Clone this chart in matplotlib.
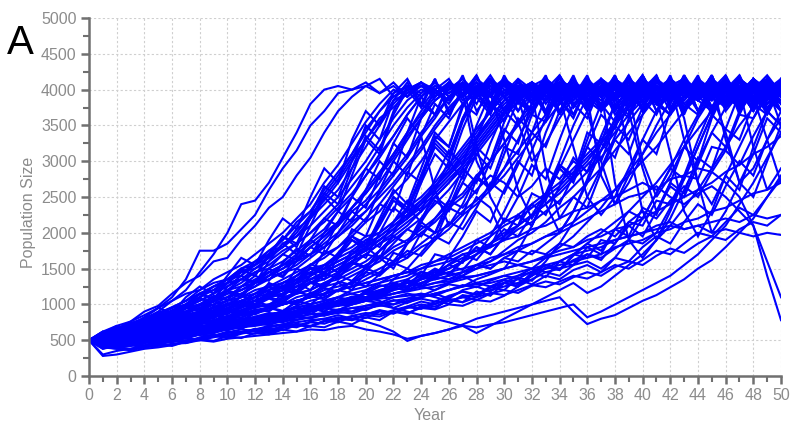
import numpy as np
import matplotlib
matplotlib.use("Agg")
import matplotlib.pyplot as plt
from matplotlib.ticker import MultipleLocator

years_max = 50
y_max = 5000

run_01 = [500, 560, 640, 700, 800, 900, 1050, 1200, 1450, 1700, 2000, 2400, 2450, 2700, 3050, 3400, 3800, 4000, 4050, 4000, 4100, 3950, 4050, 3900, 4100, 3850, 4000, 4150, 3900, 4050, 3950, 4100, 3850, 4000, 4050, 3900, 4150, 3950, 4000, 3850, 4100, 3950, 4050, 3900, 4150, 4000, 3850, 4050, 3950, 4100, 3900]
run_02 = [500, 540, 620, 720, 820, 950, 1100, 1350, 1750, 1750, 1850, 2050, 2250, 2600, 2900, 3150, 3500, 3700, 3950, 4000, 4050, 4150, 3900, 4000, 4100, 3950, 3850, 4050, 4000, 4150, 3900, 4050, 3950, 4100, 3800, 4000, 4050, 3900, 4100, 3950, 4200, 3850, 4000, 4050, 3900, 4100, 3950, 4000, 3850, 4150, 4000]
run_03 = [500, 580, 660, 760, 900, 980, 1150, 1300, 1400, 1600, 1650, 1900, 2100, 2350, 2500, 2800, 3050, 3400, 3700, 3900, 4050, 3950, 4100, 3900, 4050, 4000, 4150, 3850, 4000, 3950, 4100, 3900, 4050, 4150, 3950, 3800, 4000, 4100, 3900, 4050, 3950, 4150, 4000, 3850, 4050, 3950, 4100, 3900, 4000, 4200, 3950]
run_04 = [500, 520, 600, 650, 760, 850, 900, 1000, 1100, 1250, 1350, 1400, 1600, 1700, 1900, 2150, 2300, 2600, 2850, 3100, 3450, 3700, 3900, 4050, 3950, 4100, 3900, 4000, 4150, 3950, 4050, 3850, 4000, 4100, 3950, 4050, 3900, 4150, 4000, 3850, 4050, 3950, 4100, 4000, 3900, 4150, 3950, 4050, 3850, 4000, 4100]
run_05 = [500, 600, 640, 700, 800, 880, 950, 1050, 1200, 1300, 1350, 1500, 1550, 1750, 1800, 2000, 2250, 2450, 2700, 3000, 3300, 3550, 3850, 3950, 4100, 4000, 3850, 4050, 3950, 4200, 3900, 4000, 4100, 3950, 4050, 3900, 4100, 4000, 3850, 4150, 3950, 4000, 4100, 3900, 4050, 4000, 3950, 4150, 3900, 4050, 4000]
run_06 = [500, 480, 560, 640, 700, 760, 880, 950, 1050, 1150, 1300, 1450, 1500, 1650, 1850, 1950, 2200, 2400, 2600, 2900, 3200, 3500, 3800, 4000, 4100, 3900, 4050, 3950, 3000, 2600, 2900, 3300, 3700, 3950, 4100, 3900, 4050, 3950, 4150, 4000, 3900, 4050, 3950, 4100, 3850, 4000, 4150, 3950, 4050, 3900, 4000]
run_07 = [500, 550, 590, 660, 720, 800, 850, 960, 1000, 1100, 1200, 1300, 1450, 1500, 1600, 1750, 1900, 2050, 2300, 2500, 2800, 3100, 3350, 3650, 3900, 4050, 3950, 4100, 3900, 4000, 4150, 3950, 4050, 3850, 4000, 4100, 3950, 4050, 3900, 4100, 4000, 3850, 4050, 4150, 3950, 4000, 4100, 3900, 4050, 3950, 4100]
run_08 = [500, 450, 520, 580, 650, 700, 760, 830, 900, 1000, 1050, 1150, 1250, 1400, 1500, 1650, 1700, 1900, 2100, 2300, 2450, 2700, 3000, 3300, 3600, 3850, 4000, 4150, 3950, 4050, 3900, 4100, 4000, 3850, 4050, 3950, 4100, 3900, 4000, 4150, 3950, 4050, 3900, 4000, 4100, 3950, 3850, 4050, 4000, 4150, 3950]
run_09 = [500, 530, 610, 680, 740, 830, 920, 1000, 1150, 1200, 1350, 1400, 1550, 1700, 1800, 2050, 2200, 2500, 2750, 3050, 3300, 3600, 3750, 3950, 4050, 3900, 4100, 4000, 3950, 4150, 3900, 3550, 3000, 3250, 3600, 3900, 4050, 3950, 4100, 3900, 4000, 4050, 3950, 4150, 3900, 4050, 4000, 3850, 4100, 3950, 4050]
run_10 = [500, 560, 600, 620, 700, 750, 820, 900, 950, 1050, 1100, 1250, 1300, 1450, 1550, 1600, 1800, 1950, 2100, 2350, 2550, 2800, 3100, 3400, 3650, 3900, 4100, 3950, 4050, 3900, 4150, 4000, 3850, 4050, 3950, 4100, 4000, 3900, 4150, 3950, 4050, 3850, 4000, 4100, 3950, 4050, 3900, 4150, 4000, 3950, 4050]
run_11 = [500, 500, 540, 600, 640, 720, 780, 800, 880, 950, 1000, 1100, 1150, 1250, 1350, 1450, 1550, 1700, 1800, 2000, 2200, 2400, 2650, 2900, 3150, 3450, 3700, 3950, 4050, 3900, 4100, 4000, 3950, 4150, 3900, 4050, 3950, 4100, 3850, 4000, 4050, 4150, 3900, 4000, 4100, 3950, 4050, 3900, 4150, 4000, 3950]
run_12 = [500, 420, 480, 540, 600, 650, 700, 760, 850, 900, 980, 1050, 1100, 1200, 1300, 1400, 1550, 1650, 1800, 1950, 2150, 2300, 2550, 2750, 3000, 3300, 3550, 3800, 4000, 4100, 3950, 4050, 3900, 4150, 4000, 3850, 4050, 3950, 4100, 4000, 3900, 4150, 3950, 4050, 3850, 4000, 4100, 3950, 4050, 3900, 4100]
run_13 = [500, 540, 580, 650, 680, 760, 820, 870, 950, 1000, 1100, 1150, 1250, 1350, 1450, 1500, 1650, 1800, 1950, 2150, 2300, 2550, 2800, 3050, 3350, 3600, 3900, 4050, 3950, 4100, 3900, 4050, 4000, 3950, 4150, 4000, 3900, 2800, 2400, 2700, 3100, 3500, 3850, 4000, 4100, 3950, 4050, 3900, 4150, 4000, 3950]
run_14 = [500, 460, 500, 540, 560, 600, 650, 700, 720, 780, 830, 900, 950, 1000, 1050, 1150, 1200, 1300, 1400, 1500, 1600, 1750, 1900, 2050, 2200, 2400, 2600, 2850, 3100, 3350, 3600, 3850, 4000, 4100, 3900, 4050, 3950, 4100, 4000, 3850, 4050, 3950, 4150, 3900, 4000, 4100, 3950, 4050, 3900, 4000, 4150]
run_15 = [500, 510, 560, 590, 620, 680, 700, 760, 800, 860, 900, 960, 1000, 1100, 1150, 1200, 1300, 1350, 1450, 1600, 1700, 1850, 1950, 2100, 2300, 2500, 2700, 2950, 3200, 3450, 3700, 3900, 4050, 3950, 4100, 3900, 4050, 4000, 4150, 3950, 4050, 3900, 4100, 4000, 3850, 4050, 3950, 4150, 4000, 3900, 4050]
run_16 = [500, 380, 420, 480, 500, 550, 600, 620, 680, 720, 780, 850, 880, 950, 1000, 1100, 1150, 1250, 1300, 1400, 1500, 1600, 1750, 1850, 2000, 2150, 2350, 2500, 2750, 3000, 3250, 3500, 3750, 3950, 4050, 3900, 4100, 4000, 3950, 4150, 3900, 4050, 4000, 3850, 4100, 3950, 4050, 4000, 3900, 4150, 3950]
run_17 = [500, 520, 540, 580, 640, 660, 720, 750, 800, 880, 900, 950, 1050, 1100, 1150, 1250, 1350, 1400, 1500, 1650, 1750, 1900, 2050, 2250, 2400, 2650, 2900, 3150, 3400, 3700, 3950, 4050, 3900, 4100, 3950, 4050, 4000, 3900, 4100, 3950, 3000, 2500, 2800, 3200, 3600, 3900, 4050, 3950, 4100, 4000, 3900]
run_18 = [500, 470, 450, 500, 520, 580, 600, 650, 680, 740, 800, 820, 880, 920, 1000, 1050, 1100, 1200, 1250, 1300, 1400, 1500, 1600, 1700, 1850, 2000, 2100, 2300, 2450, 2650, 2900, 3150, 3400, 3650, 3900, 4050, 3950, 4100, 3900, 4000, 4150, 3950, 4050, 3900, 4100, 4000, 3850, 4050, 3950, 4100, 4000]
run_19 = [500, 550, 530, 600, 620, 650, 720, 740, 780, 820, 880, 920, 980, 1000, 1100, 1150, 1200, 1300, 1350, 1450, 1550, 1650, 1800, 1900, 2050, 2200, 2400, 2550, 2800, 3000, 3250, 3550, 3800, 4000, 4100, 3950, 4050, 3900, 4150, 4000, 3950, 4050, 3850, 4100, 4000, 3950, 4150, 3900, 4050, 4000, 3950]
run_20 = [500, 300, 350, 380, 420, 460, 500, 560, 600, 650, 700, 740, 800, 850, 900, 980, 1050, 1100, 1200, 1250, 1350, 1450, 1550, 1650, 1800, 1900, 2050, 2250, 2400, 2600, 2800, 3050, 3300, 3550, 3800, 4000, 4100, 3950, 4050, 3900, 4150, 4000, 3950, 4050, 3900, 4100, 4000, 3850, 4050, 4150, 3950]
run_21 = [500, 560, 620, 660, 700, 780, 800, 860, 900, 950, 1050, 1100, 1200, 1250, 1300, 1400, 1500, 1550, 1700, 1800, 1950, 2000, 2150, 2300, 2450, 2650, 2850, 3050, 3300, 3550, 3800, 3950, 4100, 3900, 4050, 3950, 4100, 4000, 3900, 4150, 3950, 4050, 3900, 4000, 4100, 3950, 4050, 3850, 4000, 4100, 3950]
run_22 = [500, 280, 300, 340, 380, 400, 430, 480, 500, 540, 580, 600, 650, 700, 720, 780, 820, 880, 920, 1000, 1050, 1100, 1200, 1250, 1350, 1400, 1500, 1600, 1700, 1850, 1950, 2100, 2250, 2400, 2600, 2800, 3000, 3250, 3500, 3750, 3950, 4050, 3900, 4100, 4000, 3950, 4150, 3900, 4050, 4000, 3950]
run_23 = [500, 450, 400, 420, 460, 480, 520, 540, 580, 600, 650, 680, 720, 760, 800, 850, 900, 950, 1000, 1050, 1100, 1200, 1250, 1300, 1400, 1450, 1550, 1650, 1750, 1850, 2000, 2100, 2250, 2400, 2550, 2750, 2950, 3150, 3400, 3650, 3850, 4000, 4100, 3950, 4050, 3900, 4100, 4000, 3950, 4150, 4000]
run_24 = [500, 520, 480, 450, 480, 500, 540, 560, 600, 620, 680, 700, 740, 780, 820, 860, 920, 960, 1000, 1050, 1100, 1150, 1250, 1300, 1350, 1450, 1500, 1600, 1700, 1800, 1900, 2050, 2150, 2300, 2450, 2650, 2850, 3050, 3300, 3550, 3800, 3950, 4050, 4150, 3950, 4050, 3900, 4100, 4000, 3950, 4050]
run_25 = [500, 400, 380, 360, 400, 420, 450, 460, 500, 480, 520, 540, 560, 580, 600, 620, 650, 640, 680, 700, 650, 620, 580, 520, 560, 600, 650, 700, 680, 720, 750, 800, 850, 900, 950, 1000, 820, 900, 1000, 1100, 1200, 1300, 1400, 1550, 1700, 1900, 2100, 2400, 2700, 3050, 3400]
run_26 = [500, 440, 470, 500, 520, 560, 580, 620, 640, 700, 720, 760, 800, 840, 880, 900, 950, 1000, 1050, 1100, 1150, 1200, 1250, 1300, 1350, 1400, 1450, 1500, 1550, 1650, 1700, 1800, 1850, 1950, 2000, 2100, 2200, 2300, 2400, 2500, 2550, 2650, 2500, 2400, 2550, 2650, 2500, 2300, 2100, 1400, 780]
run_27 = [500, 480, 520, 560, 600, 620, 660, 700, 760, 780, 840, 880, 920, 960, 1000, 1050, 1100, 1150, 1200, 1250, 1300, 1350, 1400, 1450, 1500, 1550, 1600, 1700, 1750, 1800, 1900, 1950, 2050, 2100, 2200, 2300, 2350, 2450, 2500, 2600, 2700, 2600, 2750, 2800, 2900, 2850, 2700, 2500, 2100, 1600, 1100]
run_28 = [500, 460, 430, 470, 500, 520, 560, 600, 620, 660, 700, 720, 750, 800, 820, 860, 900, 940, 980, 1000, 1050, 1100, 1150, 1200, 1250, 1300, 1320, 1380, 1400, 1450, 1500, 1550, 1600, 1650, 1700, 1750, 1800, 1850, 1900, 1950, 2000, 2050, 2100, 2050, 2100, 2000, 2050, 2000, 1950, 2000, 1970]
run_29 = [500, 420, 400, 380, 420, 440, 480, 500, 520, 560, 600, 620, 650, 680, 720, 750, 780, 800, 850, 800, 760, 700, 620, 490, 560, 600, 650, 720, 800, 850, 900, 950, 1000, 1050, 1100, 900, 725, 800, 850, 950, 1050, 1130, 1240, 1350, 1500, 1620, 1800, 2000, 2200, 2500, 2800]
run_30 = [500, 460, 500, 540, 560, 600, 640, 680, 720, 760, 800, 850, 900, 950, 1000, 1050, 1100, 1150, 1200, 1150, 1100, 1050, 950, 900, 850, 800, 750, 700, 600, 700, 800, 900, 1000, 1100, 1200, 1300, 1160, 1250, 1400, 1550, 1700, 1900, 2100, 2350, 2600, 2900, 3200, 3500, 3750, 3950, 4050]
run_31 = [500, 520, 500, 540, 580, 600, 620, 660, 700, 720, 760, 800, 820, 850, 880, 900, 920, 960, 1000, 1020, 1050, 1080, 1100, 1120, 1150, 1100, 1050, 1100, 1150, 1200, 1250, 1300, 1400, 1500, 1600, 1700, 1850, 2000, 2150, 2300, 2500, 2700, 2950, 3200, 3450, 3700, 3900, 4050, 3950, 4100, 3950]
run_32 = [500, 480, 450, 480, 520, 540, 580, 600, 650, 700, 720, 780, 800, 850, 900, 950, 1000, 1050, 1100, 1200, 1250, 1300, 1400, 1450, 1550, 1600, 1700, 1800, 1900, 2000, 2150, 2250, 2400, 2550, 2700, 2900, 3100, 3300, 3550, 3800, 4000, 4100, 3950, 4050, 3900, 4150, 4000, 3950, 4050, 3900, 4100]
run_33 = [500, 540, 600, 640, 680, 740, 780, 840, 900, 960, 1000, 1050, 1150, 1200, 1300, 1350, 1450, 1550, 1650, 1750, 1900, 2000, 2150, 2350, 2500, 2700, 2950, 3200, 3450, 3700, 3900, 4050, 3950, 4100, 3900, 4050, 3950, 4150, 4000, 3900, 4050, 3950, 4100, 3300, 2700, 2400, 2800, 3200, 3600, 3900, 4050]
run_34 = [500, 580, 640, 700, 760, 850, 950, 1000, 1100, 1200, 1300, 1350, 1500, 1600, 1750, 1850, 2000, 2200, 2400, 2650, 2900, 3200, 3500, 3750, 3950, 4100, 3900, 4050, 4000, 3950, 4150, 3900, 4050, 3950, 4100, 4000, 3850, 4050, 3950, 4100, 3900, 4000, 4150, 3950, 4050, 3900, 4100, 4000, 3850, 4050, 4000]
run_35 = [500, 620, 700, 760, 850, 950, 1050, 1150, 1200, 1350, 1450, 1550, 1700, 1850, 2000, 2200, 2400, 2700, 2950, 3250, 3550, 3800, 4000, 3900, 4100, 3950, 4050, 3900, 4150, 4000, 3950, 4050, 3850, 4100, 4000, 3950, 4150, 3900, 4050, 4000, 3850, 4100, 3950, 4050, 4000, 4150, 3900, 4050, 3950, 4100, 4000]
run_36 = [500, 560, 600, 680, 740, 800, 880, 940, 1000, 1100, 1200, 1250, 1350, 1450, 1550, 1700, 1850, 2000, 2150, 2350, 2550, 2800, 3050, 3350, 3600, 3850, 4000, 4100, 3950, 4050, 3900, 4100, 3950, 4050, 3900, 3200, 2500, 2250, 2500, 2900, 3300, 3700, 3950, 4100, 3950, 4050, 3900, 4100, 4000, 3950, 4050]
run_37 = [500, 500, 560, 580, 640, 700, 720, 780, 820, 880, 950, 1000, 1050, 1150, 1200, 1300, 1350, 1450, 1550, 1650, 1800, 1900, 2050, 2200, 2400, 2600, 2800, 3050, 3300, 3600, 3850, 4000, 4100, 3950, 4050, 3900, 4150, 3950, 4050, 4000, 3900, 4100, 3950, 4050, 3850, 4000, 4150, 3950, 4050, 4000, 3900]
run_38 = [500, 430, 460, 500, 540, 560, 600, 640, 680, 720, 760, 780, 820, 860, 900, 960, 1000, 1050, 1100, 1150, 1200, 1300, 1350, 1400, 1500, 1600, 1650, 1750, 1850, 1950, 2100, 2200, 2350, 2500, 2650, 2850, 3050, 3250, 3500, 3750, 3950, 4050, 3900, 4100, 3950, 4050, 4000, 3850, 4100, 3950, 4050]
run_39 = [500, 600, 660, 740, 800, 880, 960, 1050, 1150, 1250, 1300, 1450, 1550, 1650, 1800, 1950, 2100, 2300, 2500, 2750, 3000, 3300, 3600, 3850, 4000, 3950, 4100, 3900, 4050, 3950, 4150, 4000, 3900, 4050, 3950, 4100, 3850, 4000, 4150, 3950, 4050, 3900, 4000, 4100, 3950, 4050, 3900, 4150, 4000, 3950, 4100]
run_40 = [500, 520, 580, 620, 680, 720, 780, 820, 880, 920, 1000, 1050, 1100, 1200, 1250, 1350, 1400, 1500, 1600, 1700, 1850, 1950, 2100, 2250, 2400, 2600, 2800, 3000, 3250, 3500, 3750, 3950, 4100, 3950, 4050, 3900, 4100, 4000, 3850, 4050, 3950, 4150, 3900, 4050, 4000, 3950, 3400, 2700, 2900, 3300, 3700]
run_41 = [500, 470, 520, 560, 620, 660, 700, 760, 800, 850, 900, 980, 1050, 1100, 1200, 1250, 1350, 1450, 1550, 1650, 1750, 1900, 2050, 2200, 2350, 2550, 2750, 2950, 3200, 3450, 3700, 3900, 4050, 3950, 4100, 3900, 4050, 3950, 4150, 4000, 3900, 4050, 3950, 4100, 4000, 3850, 4050, 3950, 4100, 3950, 4050]
run_42 = [500, 540, 560, 620, 650, 700, 760, 800, 850, 900, 940, 1000, 1050, 1100, 1150, 1250, 1300, 1400, 1500, 1600, 1700, 1850, 2000, 2150, 2300, 2500, 2700, 2900, 3150, 3400, 3650, 3900, 4050, 3950, 4150, 3900, 4050, 4000, 3950, 4100, 3900, 4050, 3950, 4150, 4000, 3900, 4050, 3950, 4100, 4000, 3950]
run_43 = [500, 450, 480, 500, 540, 560, 580, 620, 650, 700, 720, 750, 800, 830, 870, 900, 950, 980, 1020, 1050, 1100, 1150, 1200, 1250, 1300, 1350, 1400, 1450, 1550, 1600, 1700, 1750, 1850, 1950, 2050, 2150, 2300, 2450, 2600, 2800, 3000, 3200, 3450, 3700, 3900, 4050, 3950, 4100, 3900, 4050, 4000]
run_44 = [500, 480, 500, 520, 560, 580, 600, 640, 660, 700, 730, 760, 800, 820, 860, 880, 920, 950, 1000, 1030, 1060, 1100, 1150, 1180, 1220, 1250, 1300, 1350, 1400, 1450, 1500, 1550, 1600, 1680, 1750, 1800, 1900, 1950, 2050, 2100, 2200, 2300, 2400, 2500, 2600, 2700, 2850, 2950, 3100, 3200, 3350]
run_45 = [500, 400, 440, 460, 500, 520, 550, 580, 600, 640, 680, 700, 720, 760, 800, 820, 860, 880, 920, 950, 980, 1000, 1050, 1080, 1100, 1150, 1200, 1250, 1280, 1300, 1350, 1400, 1450, 1500, 1550, 1600, 1650, 1700, 1800, 1850, 1900, 2000, 2050, 2150, 2200, 2300, 2350, 2450, 2550, 2600, 2700]
run_46 = [500, 560, 620, 680, 720, 780, 850, 900, 980, 1050, 1100, 1200, 1300, 1350, 1450, 1550, 1700, 1800, 1950, 2100, 2300, 2500, 2700, 2950, 3200, 3500, 3750, 3950, 4100, 3950, 4050, 3900, 4100, 4000, 3950, 4150, 3900, 4050, 3950, 3200, 2300, 1900, 2200, 2600, 3000, 3400, 3750, 3950, 4100, 3950, 4050]
run_47 = [500, 500, 580, 640, 700, 780, 820, 900, 950, 1050, 1150, 1200, 1300, 1400, 1550, 1650, 1800, 1950, 2150, 2350, 2600, 2850, 3100, 3400, 3700, 3950, 4050, 3900, 4100, 3950, 3300, 2600, 2200, 2500, 2900, 3300, 3700, 3950, 4100, 3950, 4050, 3900, 4150, 4000, 3950, 4050, 3900, 4100, 4000, 3950, 4050]
run_48 = [500, 450, 420, 460, 500, 540, 560, 600, 620, 680, 700, 740, 780, 820, 860, 900, 950, 1000, 1050, 1100, 1150, 1250, 1300, 1350, 1250, 1200, 1300, 1400, 1500, 1600, 1750, 1900, 2000, 2150, 2350, 2500, 2700, 2900, 3150, 3400, 3650, 3900, 4050, 3950, 4100, 3900, 4050, 4000, 3850, 4050, 3950]
run_49 = [500, 520, 560, 600, 640, 700, 740, 780, 850, 900, 950, 1000, 1100, 1150, 1250, 1300, 1400, 1500, 1600, 1700, 1800, 1950, 2100, 2250, 2450, 2650, 2850, 3100, 3350, 3600, 3850, 4000, 3950, 4100, 3900, 4050, 4000, 3950, 4150, 3900, 4050, 3950, 4100, 4000, 3850, 4050, 3950, 4150, 3900, 4050, 4000]
run_50 = [500, 580, 620, 660, 740, 800, 860, 900, 1000, 1050, 1150, 1200, 1300, 1400, 1500, 1600, 1700, 1850, 2000, 2200, 2400, 2600, 2850, 3100, 3400, 3650, 3900, 4050, 3950, 4100, 3900, 4050, 3950, 4150, 4000, 3900, 4050, 3950, 4100, 4000, 3850, 4050, 4000, 3950, 4150, 3900, 4050, 3950, 4100, 4000, 3950]
run_51 = [500, 460, 490, 520, 540, 580, 620, 640, 680, 700, 740, 780, 800, 840, 860, 900, 940, 980, 1000, 1050, 1080, 1100, 1150, 1200, 1250, 1300, 1350, 1400, 1300, 1250, 1300, 1400, 1500, 1650, 1800, 1950, 2150, 2350, 2600, 2850, 3100, 3400, 3650, 3900, 4050, 3950, 4100, 3900, 4050, 4000, 3950]
run_52 = [500, 440, 460, 480, 500, 530, 560, 580, 600, 620, 650, 680, 700, 730, 760, 790, 820, 850, 880, 900, 950, 980, 1000, 1050, 1100, 1150, 1200, 1250, 1300, 1350, 1400, 1450, 1500, 1550, 1600, 1700, 1750, 1800, 1900, 1950, 2000, 2100, 2150, 2050, 2100, 2150, 2200, 2150, 2250, 2200, 2250]
run_53 = [500, 510, 540, 560, 600, 640, 680, 700, 750, 780, 820, 860, 900, 950, 1000, 1050, 1100, 1150, 1200, 1250, 1300, 1350, 1400, 1450, 1400, 1350, 1400, 1450, 1500, 1550, 1600, 1550, 1500, 1450, 1500, 1550, 1600, 1500, 1650, 1900, 2200, 2550, 2900, 3300, 3650, 3900, 4050, 3950, 4100, 3900, 4050]
run_54 = [500, 560, 640, 700, 800, 860, 960, 1050, 1150, 1250, 1350, 1500, 1600, 1750, 1900, 2100, 2300, 2550, 2800, 3100, 3400, 3700, 3950, 4050, 3900, 4100, 3950, 4050, 3900, 4150, 4000, 3950, 4050, 3900, 4100, 4000, 3850, 4050, 3950, 4150, 4000, 3900, 4050, 3950, 4100, 4000, 3850, 4050, 3900, 3300, 2700]
run_55 = [500, 540, 620, 680, 760, 820, 900, 980, 1050, 1150, 1250, 1350, 1450, 1550, 1700, 1850, 2000, 2150, 2350, 2550, 2800, 3050, 3350, 3650, 3900, 4050, 3950, 4100, 3900, 4050, 3950, 4150, 4000, 3850, 4050, 3950, 4100, 4000, 3950, 4050, 3850, 4000, 4150, 3950, 4050, 3900, 4100, 4000, 3950, 4050, 3500]
run_56 = [500, 620, 540, 700, 660, 820, 760, 950, 1100, 980, 1250, 1400, 1300, 1600, 1850, 1700, 2100, 2500, 2300, 2800, 3300, 3100, 3650, 4000, 3750, 4150, 3700, 3950, 4200, 3800, 3650, 4050, 3900, 4200, 3700, 3950, 4100, 3750, 4050, 3850, 4200, 3700, 4000, 3900, 4150, 3750, 3950, 4100, 3800, 4050, 3900]
run_57 = [500, 450, 560, 520, 610, 580, 700, 650, 800, 760, 900, 1050, 980, 1150, 1100, 1300, 1450, 1350, 1650, 1900, 1750, 2150, 2500, 2300, 2800, 3300, 3100, 3600, 3950, 3700, 4100, 3850, 3650, 4000, 4200, 3800, 3950, 3700, 4100, 3850, 4000, 4200, 3750, 3900, 4050, 3650, 4000, 4150, 3850, 3950, 4100]
run_58 = [500, 380, 450, 420, 500, 470, 560, 530, 620, 600, 690, 660, 750, 820, 780, 900, 860, 980, 1100, 1020, 1200, 1150, 1350, 1500, 1400, 1700, 1650, 1950, 2300, 2150, 2600, 3000, 2800, 3400, 3850, 3600, 4050, 3800, 4150, 3700, 2900, 2300, 2700, 3200, 3000, 3600, 4000, 3750, 4150, 3900, 3700]
run_59 = [500, 560, 500, 620, 580, 700, 660, 760, 720, 880, 820, 960, 1050, 980, 1150, 1300, 1200, 1450, 1350, 1600, 1800, 1650, 2000, 2350, 2150, 2600, 3000, 2750, 3300, 3800, 3550, 4000, 3800, 4150, 3650, 3950, 4100, 3700, 3900, 4200, 3850, 3650, 4050, 3900, 4150, 3700, 4000, 3850, 4100, 3750, 3950]
run_60 = [500, 600, 700, 650, 820, 950, 880, 1100, 1250, 1150, 1400, 1650, 1550, 1900, 2200, 2050, 2500, 2900, 2700, 3300, 3700, 3500, 3950, 4150, 3800, 3650, 4050, 3900, 4200, 3750, 4000, 3850, 4100, 3700, 3950, 4150, 3800, 4050, 3650, 3900, 4200, 3850, 4000, 3700, 4100, 3950, 3800, 4150, 3700, 4000, 3850]
run_61 = [500, 460, 520, 490, 560, 620, 580, 680, 640, 740, 820, 760, 880, 950, 900, 1050, 1000, 1150, 1300, 1200, 1450, 1650, 1500, 1850, 2150, 2000, 2450, 2900, 2700, 3250, 3700, 3500, 3950, 2900, 2200, 2500, 2350, 2850, 3300, 3100, 3650, 4000, 3800, 4150, 3700, 3950, 4100, 3750, 4050, 3850, 4150]
run_62 = [500, 420, 470, 440, 400, 450, 420, 480, 520, 490, 560, 530, 600, 580, 650, 620, 700, 680, 760, 720, 820, 780, 900, 860, 980, 940, 1080, 1030, 1180, 1120, 1300, 1250, 1450, 1380, 1600, 1550, 1800, 1700, 2050, 1950, 2350, 2250, 2700, 2550, 3050, 2900, 3450, 3300, 3800, 3650, 4000]
run_63 = [500, 540, 610, 580, 660, 630, 740, 700, 820, 900, 860, 1000, 950, 1120, 1250, 1180, 1400, 1550, 1450, 1750, 1650, 2000, 2350, 2200, 2700, 3100, 2900, 3450, 3900, 3650, 4100, 3850, 4000, 3700, 4200, 3900, 3750, 4050, 3850, 4150, 3700, 3950, 4100, 3800, 3650, 4050, 3900, 4200, 3750, 3950, 4050]
run_64 = [500, 480, 550, 620, 590, 680, 760, 720, 840, 800, 930, 1050, 1000, 1180, 1120, 1320, 1500, 1420, 1700, 1950, 1800, 2200, 2600, 2400, 2900, 3400, 3200, 3750, 4050, 3800, 4150, 3900, 3700, 4050, 3850, 4200, 3750, 3950, 4100, 3800, 4000, 3850, 4100, 3600, 2700, 2000, 2300, 2700, 2500, 3000, 3500]
run_65 = [500, 430, 490, 460, 530, 500, 580, 550, 640, 610, 700, 680, 770, 740, 850, 820, 950, 900, 1060, 1000, 1180, 1120, 1300, 1250, 1450, 1400, 1650, 1580, 1900, 1800, 2200, 2100, 2550, 2450, 2950, 2800, 3400, 3250, 3800, 3650, 4050, 3850, 4150, 3700, 3950, 4100, 3800, 4000, 3700, 4150, 3900]
run_66 = [500, 580, 530, 650, 610, 740, 700, 850, 800, 980, 920, 1120, 1050, 1300, 1220, 1500, 1420, 1750, 1650, 2050, 1950, 2400, 2300, 2850, 2700, 3350, 3200, 3800, 3650, 4100, 3900, 3700, 4050, 3850, 4200, 3750, 4000, 3900, 4150, 3700, 3950, 4050, 3800, 4200, 3850, 3700, 4050, 3950, 4150, 3800, 4000]
run_67 = [500, 470, 430, 480, 520, 500, 560, 600, 570, 650, 700, 660, 750, 820, 780, 880, 950, 900, 1020, 1100, 1050, 1180, 1280, 1220, 1380, 1500, 1420, 1620, 1800, 1700, 1950, 2250, 2100, 2500, 2900, 2700, 3200, 3650, 3450, 3950, 4150, 3800, 3650, 4050, 3900, 4200, 3750, 4000, 3850, 4100, 3700]
run_68 = [500, 450, 500, 470, 540, 510, 580, 620, 590, 660, 700, 680, 740, 780, 750, 820, 870, 840, 900, 950, 920, 1000, 1060, 1020, 1100, 1150, 1080, 1200, 1250, 1180, 1300, 1350, 1280, 1400, 1350, 1480, 1550, 1450, 1650, 1600, 1800, 1950, 1850, 2150, 2400, 2250, 2650, 3000, 2800, 3300, 3600]
run_69 = [500, 520, 480, 560, 530, 600, 640, 610, 690, 660, 740, 800, 760, 850, 900, 870, 960, 1020, 980, 1080, 1150, 1100, 1220, 1300, 1250, 1380, 1450, 1400, 1550, 1500, 1650, 1600, 1750, 1700, 1850, 1800, 1950, 2050, 1950, 2150, 2300, 2200, 2450, 2650, 2500, 2850, 3150, 2950, 3350, 3700, 3500]
run_70 = [500, 560, 620, 590, 680, 740, 700, 800, 880, 830, 950, 1050, 990, 1150, 1270, 1200, 1400, 1550, 1450, 1700, 1900, 1800, 2150, 2450, 2300, 2750, 3150, 2950, 3500, 3950, 3700, 4150, 3800, 4000, 3650, 4100, 3850, 3700, 4150, 3900, 3750, 4050, 3850, 4200, 3700, 3950, 4100, 3800, 4000, 3650, 4050]
run_71 = [500, 620, 580, 700, 780, 740, 880, 980, 920, 1080, 1200, 1130, 1330, 1500, 1400, 1680, 1900, 1780, 2150, 2500, 2350, 2800, 3250, 3050, 3600, 4000, 3800, 4100, 3200, 2500, 2150, 2500, 2950, 2750, 3300, 3800, 3600, 4050, 3850, 4150, 3700, 3950, 4100, 3750, 4050, 3850, 4200, 3700, 3950, 4100, 3800]
run_72 = [500, 460, 420, 460, 430, 490, 470, 530, 500, 570, 540, 610, 590, 660, 640, 710, 690, 770, 750, 830, 810, 900, 870, 960, 940, 1040, 1010, 1130, 1100, 1240, 1200, 1370, 1330, 1520, 1480, 1700, 1650, 1900, 1850, 2150, 2100, 2450, 2400, 2800, 2750, 3200, 3150, 3650, 3600, 4000, 3850]
run_73 = [500, 530, 580, 550, 630, 600, 690, 660, 760, 730, 840, 810, 930, 900, 1040, 1000, 1170, 1120, 1320, 1270, 1500, 1430, 1720, 1650, 2000, 1900, 2350, 2250, 2750, 2650, 3200, 3100, 3650, 3550, 4000, 3850, 4150, 3700, 3950, 4100, 3800, 4050, 3700, 4200, 3900, 3750, 4100, 3850, 4000, 3700, 4150]
run_74 = [500, 580, 660, 620, 760, 880, 820, 1000, 1150, 1080, 1300, 1500, 1400, 1700, 1950, 1800, 2200, 2550, 2400, 2900, 3350, 3150, 3700, 4050, 3800, 4150, 3650, 3950, 4100, 3750, 4200, 3850, 3700, 4050, 3900, 4150, 3750, 4000, 3850, 4200, 3700, 3950, 4100, 3800, 4000, 3900, 4150, 3650, 4050, 3850, 4000]
run_75 = [500, 540, 500, 580, 640, 600, 700, 760, 720, 820, 900, 860, 980, 1080, 1020, 1180, 1300, 1230, 1420, 1580, 1500, 1750, 1950, 1850, 2200, 2500, 2350, 2800, 3200, 3000, 3550, 3950, 3700, 4100, 3850, 4000, 3700, 3000, 2400, 2800, 3300, 3100, 3700, 4050, 3850, 4150, 3300, 2700, 3100, 3600, 3400]
run_76 = [500, 440, 410, 450, 420, 470, 510, 480, 540, 580, 550, 610, 650, 620, 690, 730, 700, 770, 820, 790, 860, 910, 880, 950, 1000, 970, 1050, 1100, 1060, 1150, 1200, 1160, 1260, 1320, 1280, 1380, 1450, 1400, 1520, 1600, 1550, 1680, 1780, 1720, 1850, 1950, 1900, 2050, 2150, 2100, 2250]
run_77 = [500, 480, 540, 600, 570, 650, 720, 690, 780, 850, 810, 920, 1000, 960, 1080, 1180, 1120, 1280, 1400, 1330, 1520, 1680, 1600, 1850, 2100, 2000, 2350, 2700, 2550, 3000, 3450, 3250, 3800, 4100, 3850, 3650, 4050, 3900, 4200, 3750, 4000, 3850, 4100, 3700, 3950, 4150, 3800, 4050, 3900, 3700, 4100]
run_78 = [500, 600, 560, 680, 760, 720, 850, 950, 900, 1050, 1180, 1100, 1300, 1450, 1380, 1600, 1800, 1700, 2000, 2300, 2150, 2600, 3000, 2800, 3350, 3800, 3600, 4050, 3800, 4150, 3700, 3950, 4100, 3800, 4050, 3650, 4000, 3850, 4200, 3750, 4000, 3900, 3100, 2300, 1950, 2300, 2800, 2600, 3200, 3700, 3500]
run_79 = [500, 470, 520, 490, 560, 530, 600, 650, 620, 700, 670, 760, 820, 790, 880, 950, 910, 1020, 1100, 1060, 1180, 1270, 1220, 1350, 1460, 1400, 1560, 1700, 1620, 1850, 2050, 1950, 2250, 2550, 2400, 2800, 3200, 3000, 3500, 3950, 3750, 4150, 3850, 4000, 3700, 4100, 3900, 3750, 4150, 3950, 3800]
run_80 = [500, 560, 640, 720, 680, 800, 900, 860, 1000, 1120, 1060, 1250, 1400, 1330, 1580, 1780, 1680, 2000, 2300, 2150, 2600, 3000, 2800, 3400, 3900, 3650, 4100, 3800, 3950, 3700, 4150, 3850, 4000, 3650, 4100, 3900, 4200, 3750, 3950, 4050, 3700, 4150, 3850, 3950, 4100, 3750, 4000, 4200, 3800, 3950, 4100]
run_81 = [500, 520, 470, 540, 600, 560, 640, 700, 660, 750, 820, 780, 880, 960, 910, 1030, 1120, 1070, 1200, 1320, 1250, 1420, 1580, 1500, 1720, 1950, 1850, 2150, 2500, 2350, 1900, 2100, 2400, 2250, 2650, 3050, 2850, 3350, 3800, 3600, 4050, 3800, 4150, 3700, 3950, 4100, 3850, 4000, 3700, 4150, 3900]
run_82 = [500, 410, 380, 430, 400, 450, 490, 460, 520, 560, 530, 590, 630, 600, 670, 720, 690, 760, 810, 780, 860, 920, 880, 970, 1040, 1000, 1100, 1180, 1130, 1250, 1340, 1280, 1420, 1550, 1480, 1680, 1850, 1750, 2050, 2300, 2200, 2550, 2900, 2750, 3200, 3650, 3450, 3950, 4150, 3800, 3950]
run_83 = [500, 550, 510, 590, 650, 620, 710, 780, 740, 850, 930, 890, 1010, 1100, 1050, 1200, 1320, 1260, 1440, 1600, 1520, 1750, 1950, 1850, 2150, 2450, 2300, 2700, 3100, 2900, 3400, 3850, 3650, 4100, 3850, 4000, 3700, 4150, 3900, 3750, 4050, 3850, 4200, 3700, 3950, 4100, 3800, 4000, 3200, 2600, 2900]
run_84 = [500, 460, 500, 530, 500, 560, 600, 570, 630, 670, 640, 700, 740, 710, 780, 830, 800, 860, 900, 870, 940, 990, 950, 1030, 1080, 1040, 1120, 1180, 1140, 1230, 1300, 1250, 1350, 1450, 1400, 1550, 1700, 1620, 1850, 2100, 1950, 2300, 2650, 2500, 2950, 3400, 3200, 3700, 4050, 3850, 4100]
run_85 = [500, 590, 680, 640, 780, 880, 840, 1000, 1140, 1080, 1300, 1480, 1400, 1680, 1950, 1850, 2250, 2650, 2500, 3000, 3500, 3300, 3850, 4100, 3750, 4000, 3850, 4200, 3700, 3950, 4100, 3800, 4050, 3650, 3950, 4150, 3850, 4050, 3700, 4100, 3900, 4200, 3750, 4000, 3850, 4150, 3700, 3950, 4100, 3800, 4000]
run_86 = [500, 470, 510, 540, 520, 580, 610, 650, 630, 690, 730, 710, 780, 820, 800, 860, 900, 950, 920, 1000, 1050, 1020, 1100, 1150, 1120, 1200, 1280, 1250, 1350, 1420, 1500, 1750, 2100, 2550, 3000, 3500, 3900, 4100, 3750, 4000, 4150, 3800, 3950, 4100, 3700, 4000, 4200, 3850, 3950, 4100, 3800]
run_87 = [500, 540, 520, 580, 620, 600, 660, 700, 680, 740, 790, 770, 830, 880, 860, 920, 980, 950, 1030, 1100, 1060, 1150, 1230, 1200, 1300, 1380, 1350, 1450, 1550, 1500, 1650, 1750, 1700, 1850, 2000, 2300, 2700, 3150, 3600, 3950, 4150, 3800, 4050, 3700, 3950, 4150, 3850, 4000, 3700, 4100, 3950]
run_88 = [500, 450, 480, 520, 500, 550, 590, 570, 620, 660, 640, 700, 740, 720, 790, 830, 810, 880, 930, 900, 980, 1030, 1000, 1080, 1150, 1120, 1200, 1270, 1240, 1330, 1400, 1360, 1460, 1550, 1500, 1620, 1700, 1650, 1780, 1900, 1850, 2000, 2350, 2800, 3300, 3750, 4050, 3800, 4150, 3900, 4050]
run_89 = [500, 580, 560, 650, 720, 700, 800, 880, 850, 960, 1060, 1020, 1150, 1280, 1230, 1400, 1560, 1500, 1720, 1950, 1850, 2150, 2500, 2350, 2800, 3250, 3050, 3600, 4000, 3800, 4150, 3700, 3950, 4100, 3800, 4050, 3700, 4000, 2700, 1900, 1650, 1900, 2300, 2750, 3200, 3650, 4000, 3800, 4150, 3900, 3700]
run_90 = [500, 490, 530, 510, 560, 600, 580, 640, 690, 660, 730, 780, 750, 830, 890, 860, 950, 1020, 980, 1080, 1160, 1120, 1230, 1330, 1280, 1420, 1550, 1480, 1700, 1950, 2300, 2700, 3150, 3600, 3950, 4150, 3800, 4050, 3700, 3950, 4200, 3850, 4000, 3650, 4100, 3950, 3800, 4150, 3850, 4000, 3700]
run_91 = [500, 560, 610, 590, 670, 720, 700, 790, 860, 830, 930, 1010, 980, 1100, 1200, 1150, 1300, 1420, 1370, 1550, 1700, 1650, 1850, 2050, 1950, 2200, 2450, 2350, 2600, 2800, 2700, 2500, 2650, 2900, 2750, 3000, 2850, 3150, 3500, 3300, 3750, 4050, 3850, 4150, 3700, 3950, 4100, 3800, 4050, 3900, 4150]
run_92 = [500, 600, 680, 650, 760, 860, 820, 960, 1080, 1030, 1200, 1350, 1300, 1500, 1700, 1620, 1900, 2200, 2100, 2500, 2900, 2750, 3250, 3600, 3350, 2600, 2100, 2400, 2800, 2600, 3100, 3600, 3400, 3900, 4100, 3750, 4000, 4150, 3800, 3950, 4100, 3700, 4050, 3900, 4200, 3750, 4000, 3850, 4100, 3700, 3950]
run_93 = [500, 430, 470, 450, 500, 480, 540, 520, 580, 560, 620, 600, 660, 640, 700, 680, 750, 730, 800, 780, 850, 830, 900, 880, 950, 930, 1000, 980, 1060, 1040, 1120, 1250, 1400, 1600, 1850, 2150, 2500, 2900, 3350, 3800, 4100, 3850, 4000, 3700, 4150, 3900, 3750, 4050, 3850, 4150, 3900]
run_94 = [500, 520, 570, 550, 610, 660, 640, 710, 770, 740, 820, 890, 860, 950, 1040, 1000, 1120, 1230, 1180, 1320, 1450, 1400, 1580, 1750, 1680, 1900, 2150, 2050, 2350, 2700, 2550, 2950, 3400, 3200, 3700, 4050, 3800, 4150, 3700, 3950, 4100, 3850, 3650, 4050, 3900, 4200, 3750, 4000, 3850, 4100, 3950]
run_95 = [500, 470, 440, 480, 460, 510, 490, 540, 580, 560, 610, 650, 630, 680, 720, 700, 760, 800, 780, 840, 880, 860, 920, 970, 940, 1010, 1060, 1030, 1100, 1160, 1130, 1200, 1270, 1240, 1320, 1400, 1360, 1450, 1550, 1500, 1620, 1750, 1700, 1850, 2000, 1950, 2150, 2350, 2250, 2500, 2750]
run_96 = [500, 560, 540, 620, 690, 660, 760, 840, 800, 920, 1020, 980, 1110, 1240, 1190, 1350, 1520, 1450, 1680, 1900, 1800, 2100, 2450, 2300, 2750, 3200, 3000, 3550, 3950, 3750, 4100, 3900, 3200, 2400, 2000, 2300, 2750, 3250, 3050, 3600, 4000, 3800, 4150, 3700, 3950, 4100, 3850, 4000, 3700, 4150, 3900]
run_97 = [500, 510, 480, 530, 570, 550, 610, 650, 630, 700, 750, 720, 790, 850, 820, 900, 970, 940, 1030, 1110, 1070, 1170, 1270, 1230, 1350, 1480, 1420, 1600, 1800, 1700, 1950, 2250, 2100, 2500, 2950, 2750, 3300, 3800, 3550, 4000, 4150, 3800, 3650, 4050, 3900, 4200, 3750, 4000, 3850, 4100, 3700]

runs = [run_01, run_02, run_03, run_04, run_05, run_06, run_07, run_08, run_09, run_10,
        run_11, run_12, run_13, run_14, run_15, run_16, run_17, run_18, run_19, run_20,
        run_21, run_22, run_23, run_24, run_25, run_26, run_27, run_28, run_29, run_30,
        run_31, run_32, run_33, run_34, run_35, run_36, run_37, run_38, run_39, run_40,
        run_41, run_42, run_43, run_44, run_45, run_46, run_47, run_48, run_49, run_50,
        run_51, run_52, run_53, run_54, run_55, run_56, run_57, run_58, run_59, run_60,
        run_61, run_62, run_63, run_64, run_65, run_66, run_67, run_68, run_69, run_70,
        run_71, run_72, run_73, run_74, run_75, run_76, run_77, run_78, run_79, run_80,
        run_81, run_82, run_83, run_84, run_85, run_86, run_87, run_88, run_89, run_90,
        run_91, run_92, run_93, run_94, run_95, run_96, run_97]

bad = [(i + 1, len(r)) for i, r in enumerate(runs) if len(r) != years_max + 1]
assert not bad, f"bad lengths: {bad}"

plt.rcParams['font.family'] = ['Liberation Sans', 'DejaVu Sans']

W, H = 791, 423
fig = plt.figure(figsize=(W / 100, H / 100), dpi=100)
ax = fig.add_axes([89 / W, 1 - 376 / H, (781 - 89) / W, (376 - 18) / H])

for r in runs:
    ax.plot(np.arange(len(r)), r, color='#0000FF', linewidth=1.5, solid_joinstyle='miter')

ax.set_xlim(0, years_max)
ax.set_ylim(0, y_max)
ax.xaxis.set_major_locator(MultipleLocator(2))
ax.xaxis.set_minor_locator(MultipleLocator(1))
ax.yaxis.set_major_locator(MultipleLocator(500))
ax.yaxis.set_minor_locator(MultipleLocator(250))

ax.grid(True, which='major', color='#cfcfcf', linestyle=(0, (2, 2)), linewidth=0.8)
ax.set_axisbelow(True)

for s in ['top', 'right']:
    ax.spines[s].set_visible(False)
for s in ['left', 'bottom']:
    ax.spines[s].set_color('#707070')
    ax.spines[s].set_linewidth(1.8)

ax.tick_params(which='major', length=6, width=1.8, color='#707070',
               labelcolor='#8c8c8c', labelsize=11.5, pad=3)
ax.tick_params(which='minor', length=4, width=1.5, color='#707070')

fig.text(29 / W, 1 - 212 / H, 'Population Size', rotation=90, ha='center', va='center',
         color='#8c8c8c', fontsize=11.5)
fig.text(430 / W, 1 - 415 / H, 'Year', ha='center', va='center', color='#8c8c8c', fontsize=11.5)
fig.text(7 / W, 1 - 54 / H, 'A', ha='left', va='baseline', color='black', fontsize=29)

fig.savefig('out.png', dpi=100)
